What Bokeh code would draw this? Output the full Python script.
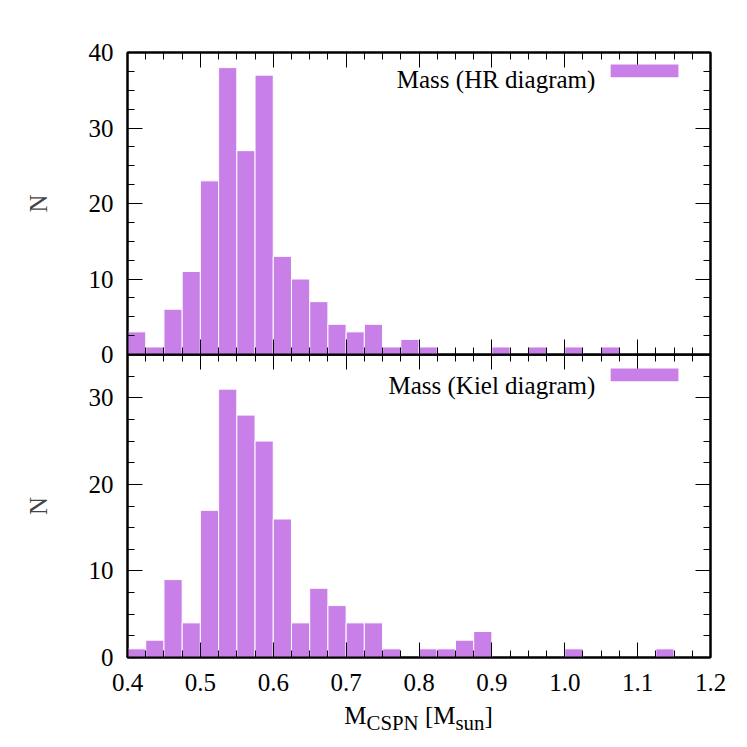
from bokeh.plotting import figure
from bokeh.models import Range1d, FixedTicker, LinearAxis, Label, BoxAnnotation, ColumnDataSource, Div
from bokeh.layouts import column
from bokeh.embed import file_html
from bokeh.resources import INLINE

# ---------------- data ----------------
bin_left = [0.400, 0.425, 0.450, 0.475, 0.500, 0.525, 0.550, 0.575,
            0.600, 0.625, 0.650, 0.675, 0.700, 0.725, 0.750, 0.775,
            0.800, 0.825, 0.850, 0.875, 0.900, 0.925, 0.950, 0.975,
            1.000, 1.025, 1.050, 1.075, 1.100, 1.125, 1.150, 1.175]
bin_width = 0.025
counts_hr = [3, 1, 6, 11, 23, 38, 27, 37, 13, 10, 7, 4, 3, 4, 1, 2,
             1, 0, 0, 0, 1, 0, 1, 0, 1, 0, 1, 0, 0, 0, 0, 0]
counts_kiel = [1, 2, 9, 4, 17, 31, 28, 25, 16, 4, 8, 6, 4, 4, 1, 0,
               1, 1, 2, 3, 0, 0, 0, 0, 1, 0, 0, 0, 0, 1, 0, 0]
legend_hr = "Mass (HR diagram)"
legend_kiel = "Mass (Kiel diagram)"
y_label = "N"
x_label_html = "M<sub>CSPN</sub> [M<sub>sun</sub>]"

x_ticks = [0.4, 0.5, 0.6, 0.7, 0.8, 0.9, 1.0, 1.1, 1.2]
x_tick_labels = ["0.4", "0.5", "0.6", "0.7", "0.8", "0.9", "1.0", "1.1", "1.2"]
x_minor = bin_left + [1.2]
y_ticks_hr = [0, 10, 20, 30, 40]
y_minor_hr = [0, 2.5, 5, 7.5, 10, 12.5, 15, 17.5, 20, 22.5, 25, 27.5, 30, 32.5, 35, 37.5, 40]
y_ticks_kiel = [0, 10, 20, 30]
y_minor_kiel = [0, 2.5, 5, 7.5, 10, 12.5, 15, 17.5, 20, 22.5, 25, 27.5, 30, 32.5, 35]

# ---------------- style ----------------
FONT = "Liberation Serif"
FS = "25px"
BAR = "#c880e8"
LEFT, FW, RIGHT = 127, 583, 22
OVERLAP = 14


def style_axis(ax, labels=True):
    ax.major_tick_in = 15
    ax.major_tick_out = 0
    ax.minor_tick_in = 7
    ax.minor_tick_out = 0
    ax.axis_line_color = "black"
    ax.axis_line_width = 2
    ax.major_tick_line_color = "black"
    ax.minor_tick_line_color = "black"
    ax.major_tick_line_width = 1
    ax.minor_tick_line_width = 1
    ax.major_label_text_font = FONT
    ax.major_label_text_font_size = FS
    ax.major_label_text_color = "black"
    if not labels:
        ax.major_label_text_font_size = "0px"
        ax.major_label_standoff = 0
        ax.major_label_text_color = None


def make_panel(counts, yticks, yminor, ymax, frame_h, top_border, bottom_border, xlabels):
    p = figure(output_backend="svg", toolbar_location=None,
               frame_width=FW, frame_height=frame_h,
               min_border_left=LEFT, min_border_right=RIGHT,
               min_border_top=top_border, min_border_bottom=bottom_border,
               x_range=Range1d(0.4, 1.2), y_range=Range1d(0, ymax))
    p.xgrid.visible = False
    p.ygrid.visible = False
    p.outline_line_color = "black"
    p.outline_line_width = 2

    xs = [l + bin_width / 2 for l, c in zip(bin_left, counts) if c > 0]
    ts = [c for c in counts if c > 0]
    src = ColumnDataSource(dict(x=xs, top=ts))
    p.vbar(x="x", top="top", bottom=0, width=bin_width, source=src,
           fill_color=BAR, line_color="white", line_width=1)

    p.xaxis.ticker = FixedTicker(ticks=x_ticks, minor_ticks=x_minor)
    p.xaxis.major_label_overrides = {t: s for t, s in zip(x_ticks, x_tick_labels)}
    style_axis(p.xaxis[0], labels=xlabels)
    if xlabels:
        p.xaxis.major_label_standoff = 16

    p.yaxis.ticker = FixedTicker(ticks=yticks, minor_ticks=yminor)
    style_axis(p.yaxis[0])
    p.yaxis.major_label_standoff = 14
    p.yaxis.axis_label = y_label
    p.yaxis.axis_label_text_font = FONT
    p.yaxis.axis_label_text_font_size = FS
    p.yaxis.axis_label_text_font_style = "normal"
    p.yaxis.axis_label_standoff = 34

    top_ax = LinearAxis(ticker=FixedTicker(ticks=x_ticks, minor_ticks=x_minor))
    style_axis(top_ax, labels=False)
    p.add_layout(top_ax, "above")
    right_ax = LinearAxis(ticker=FixedTicker(ticks=yticks, minor_ticks=yminor))
    style_axis(right_ax, labels=False)
    p.add_layout(right_ax, "right")
    return p


# top panel (leaves room below its frame for the "0" label; bottom panel overlaps it)
p1 = make_panel(counts_hr, y_ticks_hr, y_minor_hr, 40, 302, 52, OVERLAP, False)
p1.background_fill_color = "white"
p1.border_fill_color = "white"
p1.add_layout(Label(x=1.042, y=36.38, text=legend_hr, text_align="right",
                    text_baseline="alphabetic", text_font=FONT, text_font_size=FS,
                    text_color="black"))
p1.add_layout(BoxAnnotation(left=1.063, right=1.156, bottom=36.73, top=38.41,
                            fill_color=BAR, fill_alpha=1.0, line_color=None))

# bottom panel
p2 = make_panel(counts_kiel, y_ticks_kiel, y_minor_kiel, 35, 303, 0, 46, True)
p2.background_fill_color = None
p2.border_fill_color = None
p2.margin = (-OVERLAP, 0, 0, 0)
p2.add_layout(Label(x=1.042, y=31.46, text=legend_kiel, text_align="right",
                    text_baseline="alphabetic", text_font=FONT, text_font_size=FS,
                    text_color="black"))
p2.add_layout(BoxAnnotation(left=1.063, right=1.156, bottom=31.9, top=33.37,
                            fill_color=BAR, fill_alpha=1.0, line_color=None))

xlab = Div(text=x_label_html, width=FW, height=36, margin=(0, 0, 0, LEFT),
           styles={"font-family": "'Liberation Serif', serif", "font-size": "25px",
                   "text-align": "center", "color": "black", "line-height": "1",
                   "width": f"{FW}px"})

layout = column(p1, p2, xlab, spacing=0)
open("out.html", "w").write(file_html(layout, INLINE))
